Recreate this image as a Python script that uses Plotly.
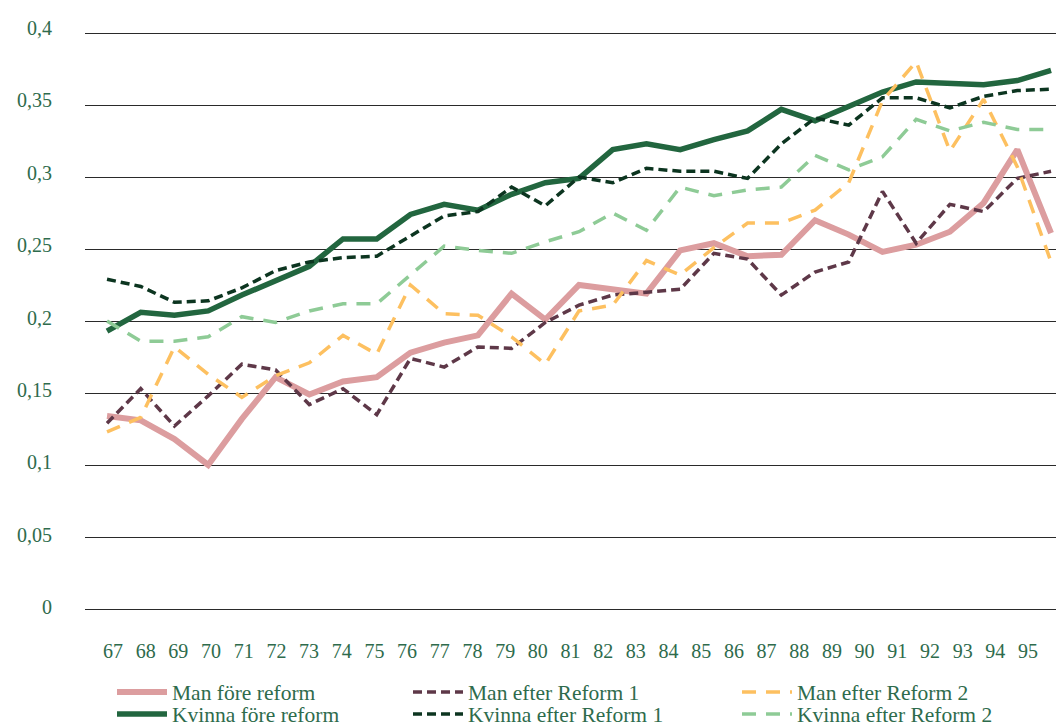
import plotly.graph_objects as go

years = list(range(67, 96))
year_labels = [str(y) for y in years]

man_fore = [0.134, 0.131, 0.118, 0.100, 0.132, 0.161, 0.149, 0.158, 0.161, 0.178,
            0.185, 0.190, 0.219, 0.201, 0.225, 0.222, 0.219, 0.249, 0.254, 0.245,
            0.246, 0.270, 0.260, 0.248, 0.253, 0.262, 0.282, 0.319, 0.261]
kvinna_fore = [0.193, 0.206, 0.204, 0.207, 0.218, 0.228, 0.238, 0.257, 0.257, 0.274,
               0.281, 0.277, 0.288, 0.296, 0.299, 0.319, 0.323, 0.319, 0.326, 0.332,
               0.347, 0.339, 0.349, 0.359, 0.366, 0.365, 0.364, 0.367, 0.374]
man_r1 = [0.129, 0.153, 0.127, 0.148, 0.170, 0.166, 0.142, 0.153, 0.135, 0.174,
          0.168, 0.182, 0.181, 0.199, 0.211, 0.218, 0.220, 0.222, 0.247, 0.243,
          0.218, 0.234, 0.241, 0.290, 0.254, 0.281, 0.276, 0.299, 0.304]
kvinna_r1 = [0.229, 0.224, 0.213, 0.214, 0.223, 0.235, 0.241, 0.244, 0.245, 0.259,
             0.273, 0.276, 0.293, 0.280, 0.300, 0.296, 0.306, 0.304, 0.304, 0.299,
             0.323, 0.341, 0.336, 0.355, 0.355, 0.348, 0.356, 0.360, 0.361]
man_r2 = [0.123, 0.133, 0.182, 0.163, 0.147, 0.162, 0.171, 0.190, 0.177, 0.225,
          0.205, 0.204, 0.189, 0.170, 0.207, 0.211, 0.242, 0.232, 0.251, 0.268,
          0.268, 0.277, 0.296, 0.353, 0.380, 0.318, 0.354, 0.307, 0.241]
kvinna_r2 = [0.200, 0.186, 0.186, 0.189, 0.203, 0.199, 0.207, 0.212, 0.212, 0.232,
             0.252, 0.249, 0.247, 0.255, 0.262, 0.275, 0.263, 0.293, 0.287, 0.291,
             0.293, 0.315, 0.305, 0.314, 0.340, 0.332, 0.338, 0.333, 0.333]

y_ticks = [0, 0.05, 0.1, 0.15, 0.2, 0.25, 0.3, 0.35, 0.4]
y_ticktext = ["0", "0,05", "0,1", "0,15", "0,2", "0,25", "0,3", "0,35", "0,4"]

TXT = "#2e6b4c"
FONT = "Liberation Serif"
W, H = 1056, 727
B = 80            # bottom margin (fixed, no auto-expand)
PH = H - B        # paper height

# (name, values, color, width, dash, legend x px, legend y px)
series = [
    ("Man före reform", man_fore, "#dc9d9f", 6, "solid", 112, 692),
    ("Kvinna före reform", kvinna_fore, "#22663f", 5.5, "solid", 112, 714),
    ("Man efter Reform 1", man_r1, "#5e3848", 3.5, "9px,5px", 408, 692),
    ("Kvinna efter Reform 1", kvinna_r1, "#0c3520", 3.5, "9px,5px", 408, 714),
    ("Man efter Reform 2", man_r2, "#fdc060", 3.5, "14px,10px", 737, 692),
    ("Kvinna efter Reform 2", kvinna_r2, "#8ecb96", 3.5, "14px,10px", 737, 714),
]

fig = go.Figure()
legends = {}
for i, (name, vals, color, width, dash, lx, ly) in enumerate(series):
    key = "legend" if i == 0 else f"legend{i + 1}"
    fig.add_trace(go.Scatter(
        x=years, y=vals, name=name, mode="lines",
        line=dict(color=color, width=width, dash=dash),
        legend=key,
    ))
    legends[key] = dict(x=lx / W, y=(PH - ly) / PH, xanchor="left", yanchor="middle",
                        font=dict(family=FONT, size=21.5, color=TXT),
                        bgcolor="rgba(0,0,0,0)", itemwidth=50)

# label axes: the printed tick labels are spaced a bit differently from the
# data grid in the original
fig.add_trace(go.Scatter(x=years, y=[None] * len(years), xaxis="x2", yaxis="y2",
                         showlegend=False, hoverinfo="skip"))

# plot region from domains (data: 0 -> 609px, 0.4 -> 33px)
y_dom = [(PH - 614.76) / PH, (PH - 27.24) / PH]
x_dom = [85 / W, 1]

fig.update_layout(
    width=W, height=H,
    margin=dict(l=0, r=0, t=0, b=B, autoexpand=False),
    plot_bgcolor="rgba(0,0,0,0)", paper_bgcolor="white",
    font=dict(family=FONT, size=20, color=TXT),
    showlegend=True,
    xaxis=dict(range=[66.347, 95.147], domain=x_dom, showgrid=False, zeroline=False,
               showticklabels=False, showline=False, automargin=False),
    xaxis2=dict(range=[66.143, 95.857], overlaying="x",
                tickvals=years, ticktext=year_labels, showgrid=False,
                zeroline=False, showline=False, ticklabelstandoff=22,
                automargin=False,
                tickfont=dict(family=FONT, size=20, color=TXT)),
    yaxis=dict(range=[-0.004, 0.404], domain=y_dom, showgrid=True,
               tickvals=y_ticks, showticklabels=False,
               gridcolor="#2a2a2a", gridwidth=1,
               zeroline=False, showline=False, automargin=False),
    yaxis2=dict(range=[-0.005078, 0.40031], overlaying="y",
                tickvals=y_ticks, ticktext=y_ticktext, showgrid=False,
                zeroline=False, showline=False, ticklabelstandoff=32,
                automargin=False,
                tickfont=dict(family=FONT, size=20, color=TXT)),
    **legends,
)

# the page body has a default 8px margin; drop it so the figure starts at 0,0
fig.write_html("out.html", config={"displayModeBar": False},
               post_script="document.body.style.margin='0px';")
